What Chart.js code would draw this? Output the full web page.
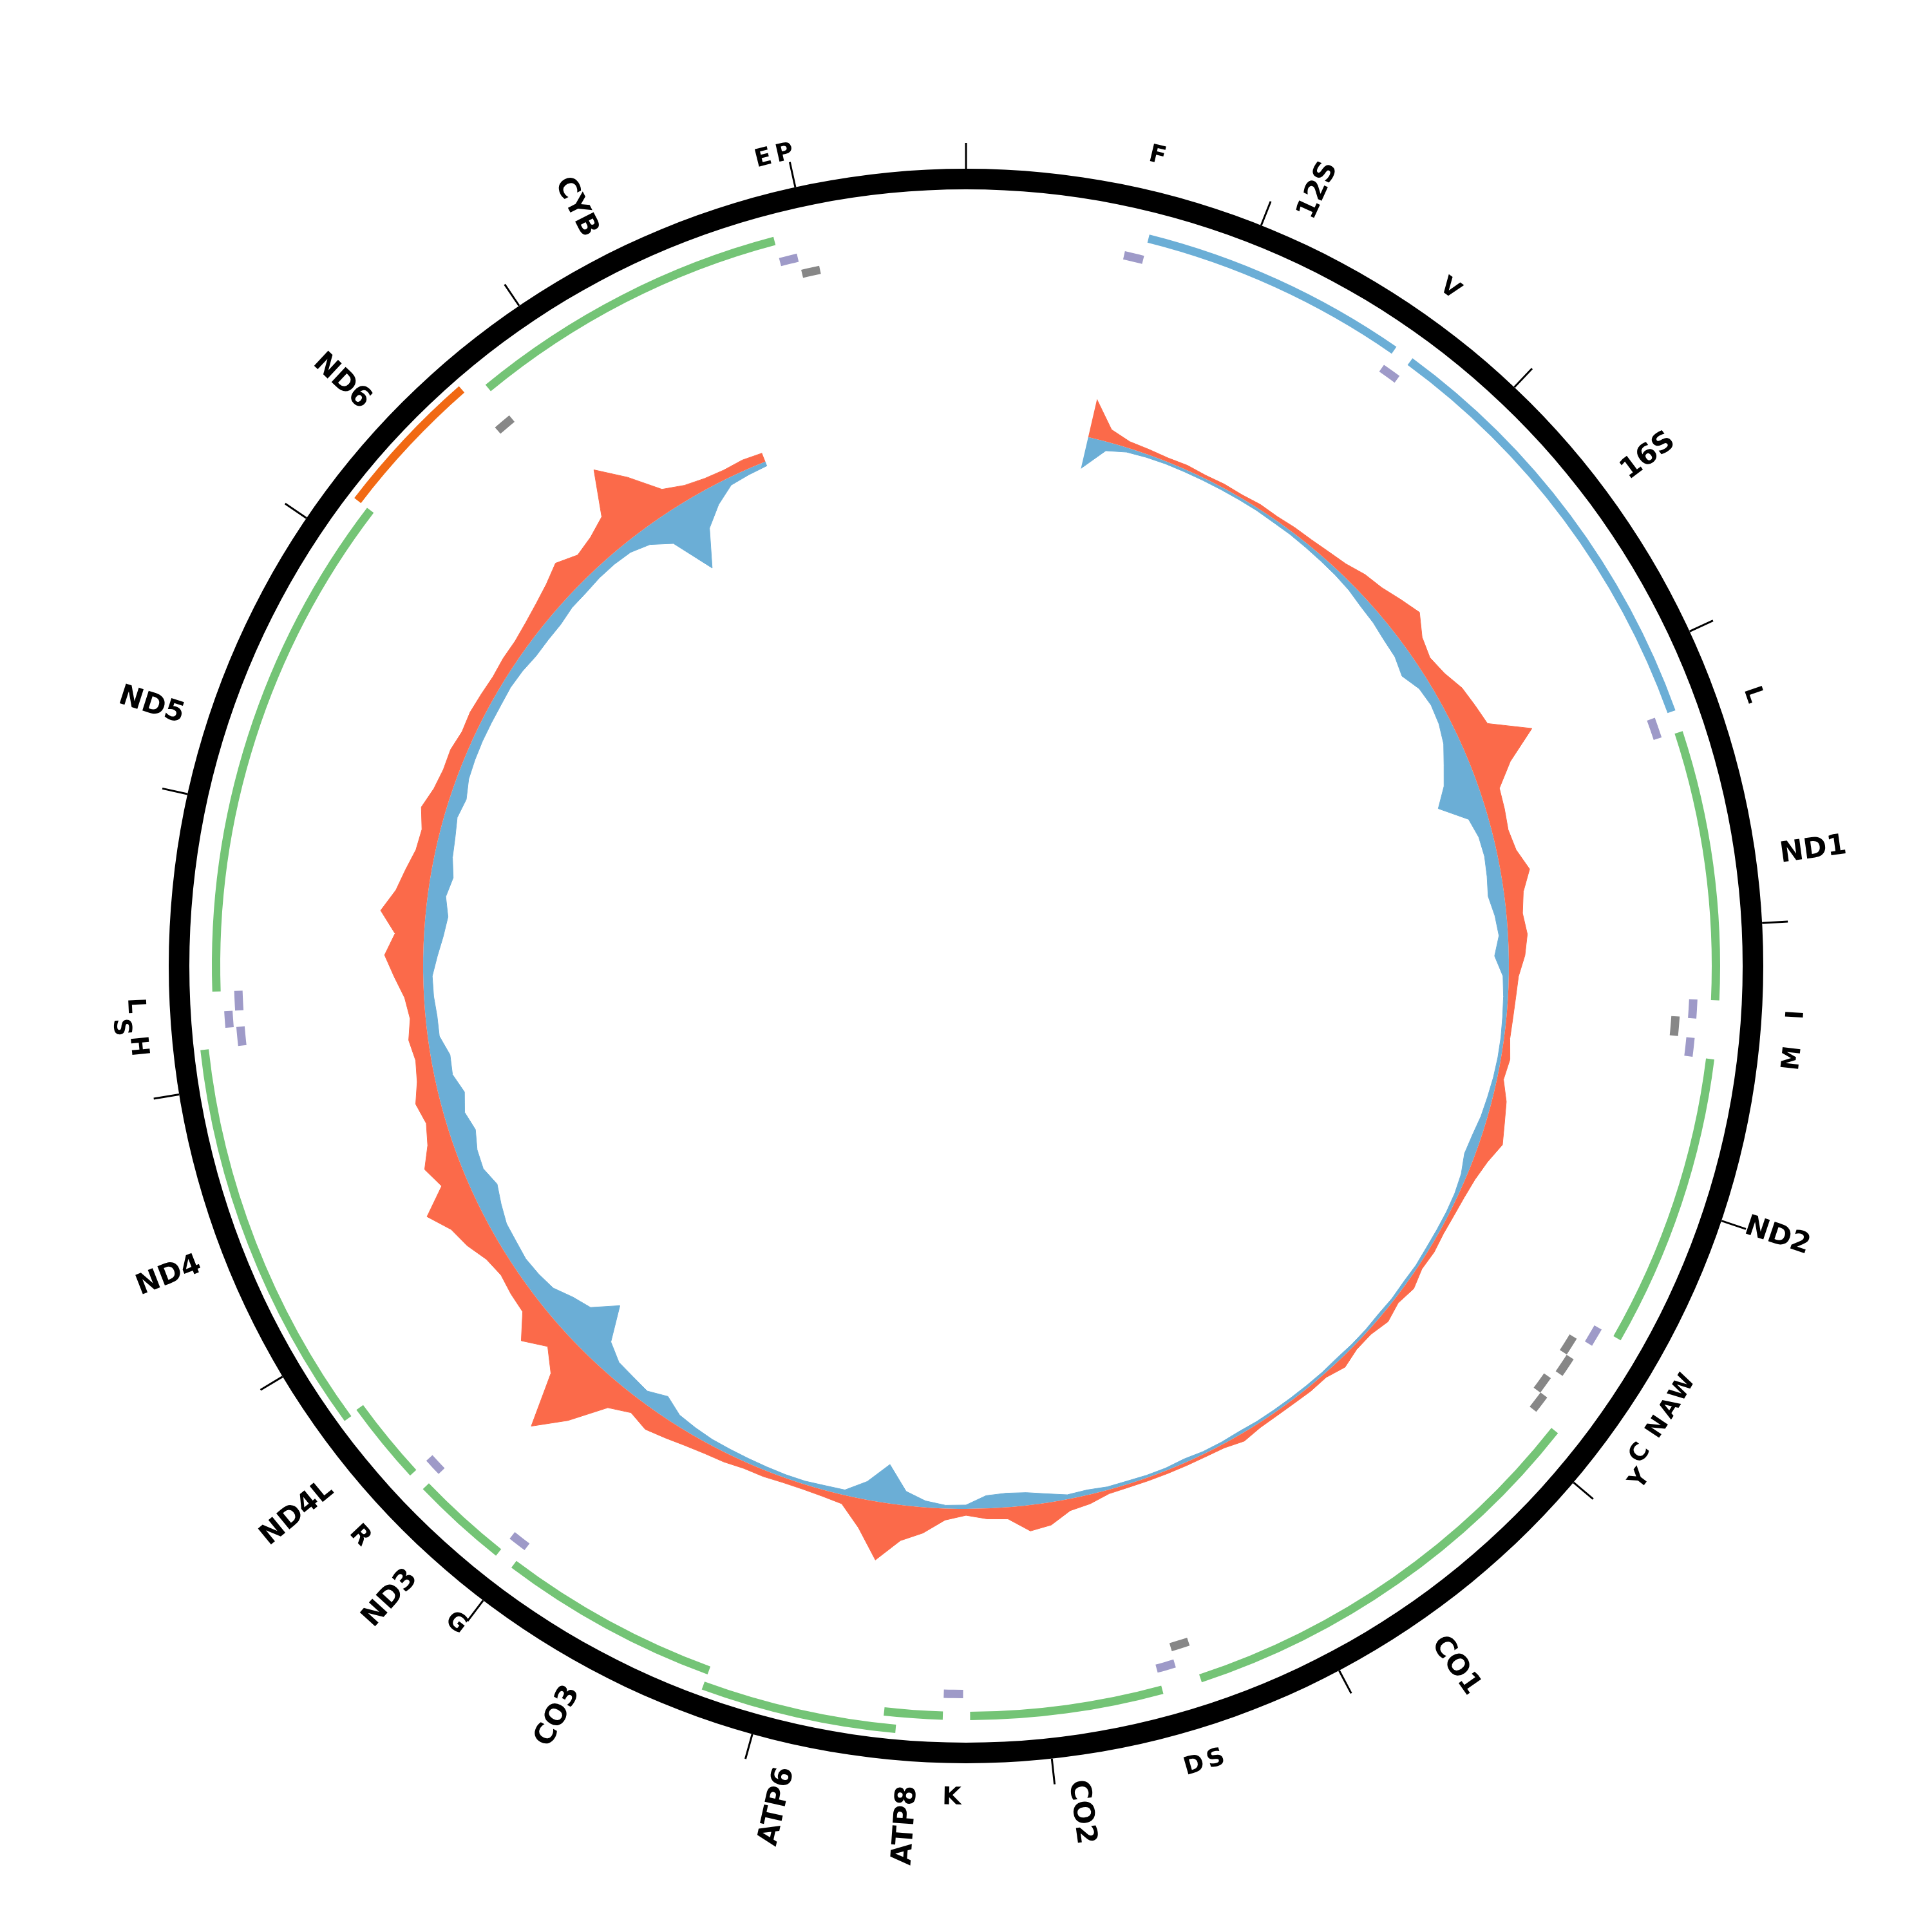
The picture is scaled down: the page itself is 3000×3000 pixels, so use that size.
<!DOCTYPE html>
<html>
<head>
<meta charset="utf-8">
<script src="https://cdn.jsdelivr.net/npm/chart.js@4.4.1/dist/chart.umd.min.js"></script>
<style>
  html, body { margin: 0; padding: 0; background: #fff; }
  #wrap { position: relative; width: 3000px; height: 3000px; }
  #wrap canvas { position: absolute; left: 0; top: 0; }
</style>
</head>
<body>
<div id="wrap">
  <canvas id="coverage" width="3000" height="3000"></canvas>
  <canvas id="genome" width="3000" height="3000"></canvas>
</div>
<script>
const genomeLength = 16569;
const tickPositions = [0, 1000, 2000, 3000, 4000, 5000, 6000, 7000, 8000, 9000, 10000, 11000, 12000, 13000, 14000, 15000, 16000];

// genes (rRNA + protein coding)
const geneNames = ['12S', '16S', 'ND1', 'ND2', 'CO1', 'CO2', 'ATP8', 'ATP6', 'CO3', 'ND3', 'ND4L', 'ND4', 'ND5', 'ND6', 'CYB'];
const geneStart = [648, 1671, 3307, 4470, 5904, 7586, 8366, 8527, 9207, 10059, 10470, 10760, 12337, 14149, 14747];
const geneEnd = [1601, 3229, 4262, 5511, 7445, 8269, 8572, 9207, 9990, 10404, 10766, 12137, 14148, 14673, 15887];
const geneKind = ['rRNA', 'rRNA', 'H', 'H', 'H', 'H', 'H', 'H', 'H', 'H', 'H', 'H', 'H', 'L', 'H'];

// tRNAs
const trnaLabels = ['F', 'V', 'L', 'I', '', 'M', 'W', 'A', 'N', 'C', 'Y', 'S', 'D', 'K', 'G', 'R', 'H', 'S', 'L', '', 'E', 'P'];
const trnaStart = [577, 1602, 3230, 4263, 4329, 4402, 5512, 5587, 5657, 5761, 5826, 7446, 7518, 8295, 9991, 10405, 12138, 12207, 12266, 14674, 15888, 15956];
const trnaEnd = [647, 1670, 3304, 4331, 4400, 4469, 5579, 5655, 5729, 5826, 5891, 7514, 7585, 8364, 10058, 10469, 12206, 12265, 12336, 14742, 15953, 16023];
const trnaStrand = ['H', 'H', 'H', 'H', 'L', 'H', 'H', 'L', 'L', 'L', 'L', 'L', 'H', 'H', 'H', 'H', 'H', 'H', 'H', 'L', 'H', 'L'];

// read coverage in bins of genomeLength/binCount, starting at coverageFirstBin
const binCount = 166;
const coverageFirstBin = 6;
const forwardCoverage = [
  60, 20, 10, 8, 6, 7, 5, 6, 5, 7, 6, 8, 9, 12, 16, 25, 30, 40, 50, 30,
  22, 28, 40, 45, 50, 110, 60, 30, 28, 25, 30, 45, 30, 25, 30, 25, 15, 12, 10, 9,
  14, 10, 22, 28, 35, 22, 14, 10, 8, 7, 9, 7, 14, 8, 14, 7, 7, 14, 6, 7,
  6, 6, 7, 12, 6, 5, 5, 5, 5, 5, 6, 14, 18, 35, 40, 18, 16, 10, 18, 40,
  55, 90, 45, 14, 10, 8, 8, 10, 10, 14, 16, 20, 26, 32, 24, 40, 95, 140, 60, 35,
  60, 30, 28, 24, 30, 45, 55, 80, 40, 55, 38, 30, 38, 28, 24, 30, 24, 30, 45, 60,
  45, 70, 50, 40, 30, 28, 38, 28, 24, 25, 20, 22, 20, 18, 20, 20, 24, 30, 38, 50,
  35, 42, 55, 120, 80, 35, 22, 16, 14, 16, 14
];
const reverseCoverage = [
  50, 14, 7, 5, 4, 4, 4, 4, 4, 4, 5, 5, 6, 7, 8, 10, 14, 16, 20, 22,
  30, 18, 15, 18, 25, 38, 50, 70, 30, 22, 20, 22, 25, 18, 14, 22, 9, 7, 6, 5,
  5, 6, 8, 10, 14, 16, 9, 6, 5, 5, 5, 4, 5, 4, 5, 4, 4, 5, 4, 4,
  4, 4, 4, 5, 4, 4, 6, 4, 4, 5, 5, 8, 7, 14, 20, 22, 20, 6, 5, 10,
  22, 60, 28, 8, 7, 5, 5, 6, 7, 8, 9, 12, 16, 30, 18, 22, 25, 40, 90, 55,
  45, 30, 25, 22, 24, 25, 32, 40, 30, 32, 40, 32, 40, 28, 30, 18, 18, 15, 14, 22,
  30, 35, 28, 35, 28, 25, 20, 25, 18, 16, 15, 15, 15, 14, 16, 20, 20, 20, 16, 16,
  14, 14, 16, 25, 45, 110, 55, 30, 12, 9, 7
];

const colors = {
  rRNA: '#6baed6', H: '#74c476', L: '#f16913',
  trnaH: '#9e9ac8', trnaL: '#878787',
  fwd: '#fb6a4a', rev: '#6baed6', none: 'rgba(0,0,0,0)'
};

Chart.defaults.font.family = 'DejaVu Sans';

// greedy stacking: a feature too close to the previous one goes to the next level
function packLevels(starts, ends, minGap) {
  const lastEnd = [];
  return starts.map((s, i) => {
    let lvl = 0;
    while (lastEnd[lvl] !== undefined && s <= lastEnd[lvl] + minGap) lvl++;
    lastEnd[lvl] = ends[i];
    return lvl;
  });
}

function ringDataset(items, weight) {
  const data = [], bg = [];
  let pos = 0;
  items.sort((a, b) => a.start - b.start).forEach(it => {
    if (it.start > pos) { data.push(it.start - pos); bg.push(colors.none); }
    data.push(it.end - it.start + 1); bg.push(it.color);
    pos = it.end + 1;
  });
  if (pos < genomeLength) { data.push(genomeLength - pos); bg.push(colors.none); }
  return { data, backgroundColor: bg, borderWidth: 0, weight };
}
function spacer(weight) {
  return { data: [1], backgroundColor: [colors.none], borderWidth: 0, weight };
}

const geneLevel = packLevels(geneStart, geneEnd, 30);
const genes = geneNames.map((n, i) => ({ start: geneStart[i], end: geneEnd[i], color: colors[geneKind[i]], level: geneLevel[i] }));

const hIdx = trnaStrand.map((s, i) => s === 'H' ? i : -1).filter(i => i >= 0);
const lIdx = trnaStrand.map((s, i) => s === 'L' ? i : -1).filter(i => i >= 0);
const hLevel = packLevels(hIdx.map(i => trnaStart[i]), hIdx.map(i => trnaEnd[i]), 30);
const lLevel = packLevels(lIdx.map(i => trnaStart[i]), lIdx.map(i => trnaEnd[i]), 30);
const trnaH = hIdx.map((i, k) => ({ start: trnaStart[i], end: trnaEnd[i], color: colors.trnaH, level: hLevel[k] }));
const trnaL = lIdx.map((i, k) => ({ start: trnaStart[i], end: trnaEnd[i], color: colors.trnaL, level: lLevel[k] }));

const genomeDatasets = [
  { data: [genomeLength], backgroundColor: ['#000'], borderWidth: 0, weight: 32 },
  spacer(10),
  ringDataset(genes.filter(g => g.level === 1), 13),
  spacer(12),
  ringDataset(genes.filter(g => g.level === 0), 13),
  spacer(4),
  ringDataset(trnaH.filter(g => g.level === 1), 13),
  spacer(4),
  ringDataset(trnaH.filter(g => g.level === 0), 13),
  ringDataset(trnaL.filter(g => g.level === 1), 13),
  ringDataset(trnaL.filter(g => g.level === 0), 13)
];

const labelPlugin = {
  id: 'genomeLabels',
  afterDatasetsDraw(chart) {
    const outer = chart.getDatasetMeta(0).data[0];
    const cx = outer.x, cy = outer.y, R = outer.outerRadius;
    const ctx = chart.ctx;
    const ang = p => p / genomeLength * Math.PI * 2;
    ctx.save();
    ctx.strokeStyle = '#000';
    ctx.lineWidth = 3;
    tickPositions.forEach(p => {
      const a = ang(p);
      ctx.beginPath();
      ctx.moveTo(cx + Math.sin(a) * R, cy - Math.cos(a) * R);
      ctx.lineTo(cx + Math.sin(a) * (R + 40), cy - Math.cos(a) * (R + 40));
      ctx.stroke();
    });

    ctx.fillStyle = '#000';
    ctx.textBaseline = 'middle';
    // gene names, radial
    ctx.font = 'bold 44px "DejaVu Sans"';
    geneNames.forEach((name, i) => {
      const a = ang((geneStart[i] + geneEnd[i]) / 2);
      ctx.save();
      ctx.translate(cx, cy);
      if (a < Math.PI) {
        ctx.rotate(a - Math.PI / 2);
        ctx.textAlign = 'left';
        ctx.fillText(name, R + 38, 0);
      } else {
        ctx.rotate(a - Math.PI * 1.5);
        ctx.textAlign = 'right';
        ctx.fillText(name, -(R + 38), 0);
      }
      ctx.restore();
    });
    // tRNA letters, tangential; a letter crowding its neighbour moves outwards
    ctx.font = 'bold 38px "DejaVu Sans"';
    ctx.textAlign = 'center';
    const crowd = 1.45 * Math.PI / 180;
    let lastA = -1;
    trnaLabels
      .map((name, i) => ({ name, a: ang((trnaStart[i] + trnaEnd[i]) / 2) }))
      .filter(t => t.name)
      .sort((p, q) => p.a - q.a)
      .forEach(t => {
        let r = R + 54;
        if (lastA >= 0 && t.a - lastA < crowd) r += 24; else lastA = t.a;
        ctx.save();
        ctx.translate(cx, cy);
        ctx.rotate(t.a);
        ctx.translate(0, -r);
        if (t.a > Math.PI / 2 && t.a < Math.PI * 1.5) ctx.rotate(Math.PI);
        ctx.fillText(t.name, 0, 0);
        ctx.restore();
      });
    ctx.restore();
  }
};

new Chart(document.getElementById('genome'), {
  type: 'doughnut',
  data: { datasets: genomeDatasets },
  options: {
    responsive: false,
    animation: false,
    events: [],
    rotation: 0,
    circumference: 360,
    cutout: 1098,
    layout: { padding: 262 },
    plugins: { legend: { display: false }, tooltip: { enabled: false } }
  },
  plugins: [labelPlugin]
});

// coverage: forward outward, reverse inward around the baseline circle
const binLabels = Array.from({ length: binCount }, (_, i) => String(Math.round(i * genomeLength / binCount)));
function spread(values) {
  return binLabels.map((_, i) => {
    const k = i - coverageFirstBin;
    return k >= 0 && k < values.length ? values[k] : null;
  });
}

new Chart(document.getElementById('coverage'), {
  type: 'radar',
  data: {
    labels: binLabels,
    datasets: [
      { data: spread(forwardCoverage), borderColor: colors.fwd, backgroundColor: colors.fwd, fill: 'origin', borderWidth: 1, pointRadius: 0, spanGaps: false },
      { data: spread(reverseCoverage).map(v => v === null ? null : -v), borderColor: colors.rev, backgroundColor: colors.rev, fill: 'origin', borderWidth: 1, pointRadius: 0, spanGaps: false }
    ]
  },
  options: {
    responsive: false,
    animation: false,
    events: [],
    layout: { padding: 264 },
    scales: {
      r: {
        min: -843, max: 393,
        ticks: { display: false },
        grid: { display: false, circular: true },
        angleLines: { display: false },
        pointLabels: { display: false }
      }
    },
    plugins: { legend: { display: false }, tooltip: { enabled: false } }
  }
});
</script>
</body>
</html>
